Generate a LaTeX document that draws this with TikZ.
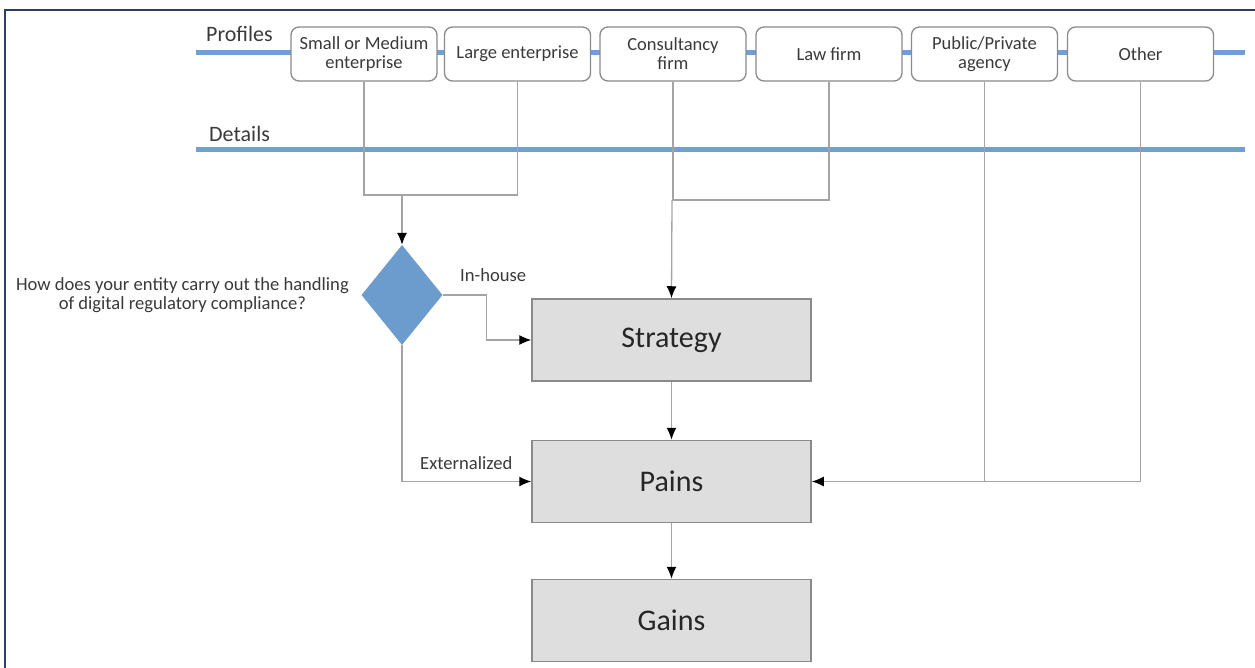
\documentclass[tikz,border=0pt]{standalone}
\usepackage{fontspec}
\setmainfont{Carlito}
\usetikzlibrary{shapes.geometric,arrows.meta}
\definecolor{frame}{HTML}{2F3D66}
\definecolor{lane}{HTML}{6F9FD4}
\definecolor{dia}{HTML}{6C9BCD}
\definecolor{boxfill}{HTML}{DEDEDE}
\definecolor{boxline}{HTML}{8A8A8A}
\definecolor{conn}{HTML}{A4A4A4}
\definecolor{txt}{HTML}{3A3A3A}
\tikzset{
  profbox/.style={draw=boxline, line width=1.3pt, rounded corners=8pt, fill=white,
    minimum width=146pt, minimum height=54pt, inner sep=1pt, align=center,
    text=txt, font=\fontsize{18.5}{19}\selectfont},
  mainbox/.style={draw=boxline, line width=1.5pt, fill=boxfill,
    minimum width=279pt, minimum height=82pt, text=black!85,
    font=\fontsize{30}{32}\selectfont},
  lanelabel/.style={text=txt, font=\fontsize{22}{23}\selectfont, inner sep=0pt},
  lbl/.style={text=txt, font=\fontsize{18.6}{19.5}\selectfont, inner sep=0pt},
  link/.style={draw=conn, line width=1.3pt},
  arr/.style={link, -{Latex[length=12pt,width=10pt,color=black]}},
}
\begin{document}
\begin{tikzpicture}[x=1pt,y=-1pt]
\useasboundingbox (0,0) rectangle (1255,668);
% frame
\draw[frame, line width=2.5pt] (5,668) -- (5,10) -- (1255,10);
% lanes
\draw[lane, line width=5pt] (196,53) -- (1245,53);
\draw[lane, line width=5pt] (196,150) -- (1245,150);
\node[lanelabel, anchor=base west] (plab) at (206,42) {Profiles};
\node[lanelabel, anchor=base west] (dlab) at (209,142) {Details};
% profile boxes
\node[profbox] (b1) at (364,54) {Small or Medium\\enterprise};
\node[profbox] (b2) at (517.5,54) {Large enterprise};
\node[profbox] (b3) at (673,54) {Consultancy\\firm};
\node[profbox] (b4) at (829,54) {Law firm};
\node[profbox] (b5) at (984.5,54) {Public/Private\\agency};
\node[profbox] (b6) at (1140.5,54) {Other};
% decision
\node[diamond, aspect=0.81, fill=dia, minimum width=81pt, minimum height=100pt, inner sep=0pt] (dia) at (402,295) {};
\node[lbl, align=center, anchor=east] (q) at (349,295) {How does your entity carry out the handling\\of digital regulatory compliance?};
% main boxes
\node[mainbox] (strat) at (671.5,340) {Strategy};
\node[mainbox] (pains) at (671.5,481.5) {Pains};
\node[mainbox] (gains) at (671.5,620.5) {Gains};
% junctions
\coordinate (j1) at (402,195);
\coordinate (j2) at (672,200);
% connectors
\draw[link] (b1.south) |- (j1);
\draw[link] (b2.south) |- (j1);
\draw[arr] (j1) -- (dia.north);
\draw[link] (b3.south) |- (j2);
\draw[link] (b4.south) |- (j2);
\draw[arr] (j2) -- (strat.north);
\draw[arr] (dia.east) -- ++(44,0) |- (strat.west);
\node[lbl, anchor=base west] (inh) at (460,281) {In-house};
\draw[arr] (dia.south) |- (pains.west);
\node[lbl, anchor=base west] (ext) at (420,469) {Externalized};
\draw[arr] (strat.south) -- (pains.north);
\draw[arr] (pains.south) -- (gains.north);
\draw[link] (b5.south) -- (b5.south |- pains.east);
\draw[arr] (b6.south) |- (pains.east);
\end{tikzpicture}
\end{document}
